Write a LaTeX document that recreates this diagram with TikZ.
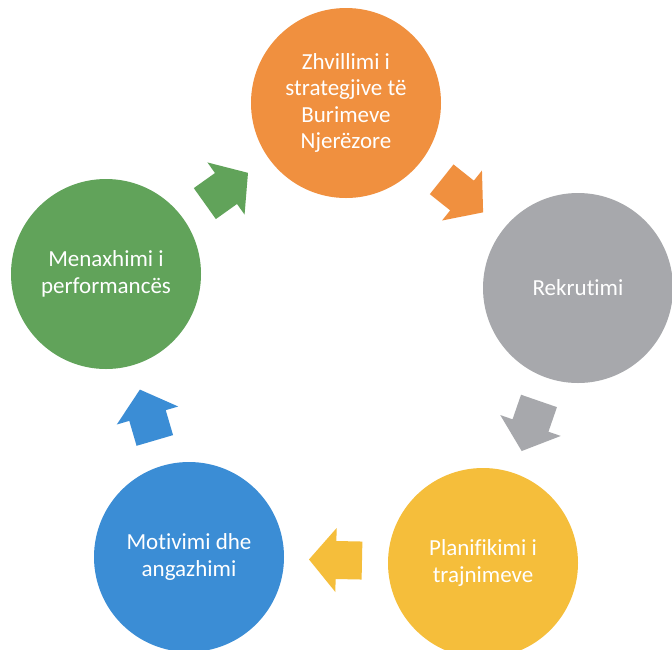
\documentclass[tikz,border=0pt]{standalone}
\usepackage{fontspec}
\setmainfont{Carlito}[Ligatures=NoCommon]
\usetikzlibrary{calc}
\definecolor{cOrange}{HTML}{F0903F}
\definecolor{cGray}{HTML}{A7A8AC}
\definecolor{cYellow}{HTML}{F5BE3B}
\definecolor{cBlue}{HTML}{3B8DD5}
\definecolor{cGreen}{HTML}{61A35A}
\newcommand\cycarrow[3]{%
  \fill[#3] let \p1=(#1), \p2=(#2), \n1={atan2(\y2-\y1,\x2-\x1)} in
    [shift={($(#1)!0.5!(#2)$)}, rotate=\n1]
    (-26,-19) -- (0,-19) -- (0,-32) -- (27,0) -- (0,32) -- (0,19) -- (-26,19) -- cycle;}
\begin{document}
\begin{tikzpicture}[x=1pt,y=-1pt,
  stage/.style={circle, minimum size=190pt, inner sep=0pt, align=center,
    text=white, font=\fontsize{23}{26.5}\selectfont}]
\useasboundingbox (0,0) rectangle (672,649);
\fill[white] (0,0) rectangle (672,649);
\node[stage, fill=cOrange] (zh) at (346,103) {Zhvillimi i\\strategjive të\\Burimeve\\Njerëzore};
\node[stage, fill=cGray] (rk) at (578,288) {Rekrutimi};
\node[stage, fill=cYellow] (pl) at (483,563) {Planifikimi i\\trajnimeve};
\node[stage, fill=cBlue] (mo) at (189,557) {Motivimi dhe\\angazhimi};
\node[stage, fill=cGreen] (me) at (106,274) {Menaxhimi i\\performancës};
\cycarrow{me}{zh}{cGreen}
\cycarrow{zh}{rk}{cOrange}
\cycarrow{rk}{pl}{cGray}
\cycarrow{pl}{mo}{cYellow}
\cycarrow{mo}{me}{cBlue}
\end{tikzpicture}
\end{document}
